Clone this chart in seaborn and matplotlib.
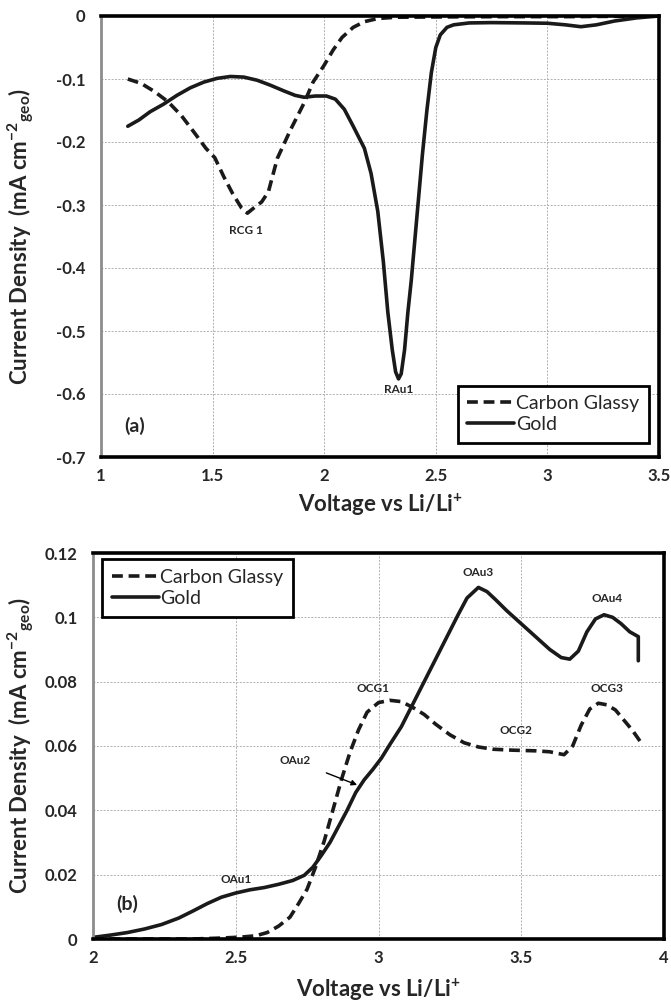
import numpy as np
import pandas as pd
import matplotlib
matplotlib.use("Agg")
import matplotlib.pyplot as plt
import seaborn as sns

# panel (a): cathodic sweep
a_gold_v = [1.12, 1.17, 1.22, 1.28, 1.34, 1.40, 1.46, 1.52, 1.58, 1.64, 1.70, 1.76, 1.82, 1.87,
            1.91, 1.96, 2.01, 2.05, 2.09, 2.13, 2.18, 2.21, 2.24, 2.265, 2.285, 2.305, 2.32, 2.333,
            2.345, 2.36, 2.375, 2.39, 2.40, 2.42, 2.44, 2.46, 2.48, 2.50, 2.52, 2.55, 2.58, 2.65,
            2.75, 2.9, 3.0, 3.08, 3.15, 3.22, 3.30, 3.40, 3.5]
a_gold_i = [-0.175, -0.165, -0.152, -0.14, -0.126, -0.114, -0.105, -0.099, -0.096, -0.097, -0.102,
            -0.110, -0.119, -0.126, -0.129, -0.127, -0.127, -0.132, -0.148, -0.175, -0.21, -0.25,
            -0.31, -0.39, -0.47, -0.53, -0.565, -0.576, -0.568, -0.53, -0.47, -0.42, -0.38, -0.30,
            -0.22, -0.15, -0.09, -0.05, -0.03, -0.018, -0.014, -0.011, -0.0105, -0.011, -0.0115,
            -0.014, -0.017, -0.014, -0.008, -0.003, 0.0]
a_cg_v = [1.12, 1.18, 1.24, 1.30, 1.36, 1.42, 1.47, 1.51, 1.55, 1.59, 1.63, 1.656, 1.68, 1.72,
          1.75, 1.79, 1.85, 1.91, 1.95, 2.00, 2.04, 2.08, 2.13, 2.18, 2.24, 2.32, 2.5, 2.8, 3.1, 3.5]
a_cg_i = [-0.100, -0.107, -0.120, -0.136, -0.158, -0.186, -0.210, -0.225, -0.255, -0.282, -0.305,
          -0.313, -0.306, -0.295, -0.279, -0.226, -0.18, -0.138, -0.105, -0.078, -0.054, -0.034,
          -0.018, -0.009, -0.004, -0.002, -0.0015, -0.001, -0.001, 0.0]

# panel (b): anodic sweep
b_gold_v = [2.00, 2.06, 2.12, 2.18, 2.24, 2.30, 2.35, 2.40, 2.45, 2.50, 2.55, 2.60, 2.65, 2.70,
            2.74, 2.77, 2.80, 2.83, 2.86, 2.89, 2.92, 2.95, 2.98, 3.01, 3.04, 3.08, 3.12, 3.16,
            3.20, 3.24, 3.28, 3.31, 3.35, 3.38, 3.41, 3.45, 3.50, 3.55, 3.60, 3.64, 3.67, 3.70,
            3.73, 3.76, 3.79, 3.82, 3.85, 3.88, 3.91, 3.91]
b_gold_i = [0.0005, 0.0012, 0.002, 0.0031, 0.0045, 0.0065, 0.0087, 0.011, 0.013, 0.0143, 0.0153,
            0.016, 0.017, 0.0182, 0.0198, 0.0223, 0.026, 0.030, 0.035, 0.040, 0.0455, 0.0495,
            0.0527, 0.0562, 0.0605, 0.066, 0.073, 0.080, 0.087, 0.094, 0.101, 0.106, 0.1093,
            0.108, 0.1055, 0.102, 0.098, 0.094, 0.090, 0.0875, 0.087, 0.0895, 0.0955, 0.0995,
            0.1008, 0.1, 0.098, 0.0955, 0.094, 0.0865]
b_cg_v = [2.00, 2.2, 2.35, 2.45, 2.52, 2.57, 2.61, 2.65, 2.69, 2.72, 2.75, 2.78, 2.81, 2.84, 2.87,
          2.90, 2.93, 2.96, 3.00, 3.04, 3.08, 3.12, 3.16, 3.20, 3.25, 3.30, 3.35, 3.40, 3.47, 3.55,
          3.60, 3.65, 3.68, 3.71, 3.74, 3.77, 3.80, 3.83, 3.86, 3.89, 3.92]
b_cg_i = [0.0, 0.0, 0.0, 0.0003, 0.0006, 0.001, 0.002, 0.004, 0.0068, 0.011, 0.0155, 0.0225,
          0.0305, 0.040, 0.0495, 0.058, 0.065, 0.0705, 0.0735, 0.0742, 0.0738, 0.072, 0.0698,
          0.0668, 0.0635, 0.061, 0.0597, 0.059, 0.0587, 0.0585, 0.0582, 0.0573, 0.060, 0.0665,
          0.0715, 0.0733, 0.0728, 0.0712, 0.068, 0.0648, 0.061]

a_peaks = ["RCG 1", "RAu1"]
a_peak_pos = [(1.65, -0.34), (2.333, -0.593)]
b_peaks = ["OAu1", "OCG1", "OCG2", "OCG3", "OAu3", "OAu4"]
b_peak_pos = [(2.5, 0.0185), (2.98, 0.0778), (3.48, 0.0648), (3.8, 0.078), (3.35, 0.1138), (3.8, 0.1058)]

sns.set_style("white")
plt.rcParams['font.family'] = ['Lato', 'DejaVu Sans']
plt.rcParams['mathtext.default'] = 'regular'

W, H = 671, 1001
fig = plt.figure(figsize=(W / 100, H / 100), dpi=100)
ax_a = fig.add_axes([101 / W, 1 - 457 / H, 558 / W, 441 / H])
ax_b = fig.add_axes([93 / W, 1 - 939 / H, 571 / W, 386 / H])

DASH = (0, (3.0, 1.6))


def draw_panel(ax, gold_v, gold_i, cg_v, cg_i):
    gold = pd.DataFrame({'v': gold_v, 'i': gold_i})
    cg = pd.DataFrame({'v': cg_v, 'i': cg_i})
    sns.lineplot(data=cg, x='v', y='i', ax=ax, sort=False, estimator=None, color='#1a1a1a',
                 lw=2.6, linestyle=DASH, label='Carbon Glassy')
    sns.lineplot(data=gold, x='v', y='i', ax=ax, sort=False, estimator=None, color='#1a1a1a',
                 lw=2.6, label='Gold')
    ax.grid(True, color='#b0b0b0', linestyle=(0, (2, 1.5)), linewidth=0.7)
    for side in ['top', 'right', 'bottom']:
        ax.spines[side].set_color('black')
        ax.spines[side].set_linewidth(2.6)
    ax.spines['left'].set_color('#8c8c8c')
    ax.spines['left'].set_linewidth(2)
    ax.tick_params(axis='x', length=0, labelsize=12, pad=8)
    ax.tick_params(axis='y', length=0, labelsize=12, pad=11)
    ax.set_xlabel('Voltage vs Li/Li$^{+}$', fontsize=16, fontweight='bold')
    ax.set_ylabel('Current Density  (mA cm$^{-2}$$_{geo}$)', fontsize=16, fontweight='bold')


def style_legend(ax, loc, anchor):
    leg = ax.legend(loc=loc, bbox_to_anchor=anchor, fontsize=14, handlelength=2.4,
                    handletextpad=0.1, borderaxespad=0, fancybox=False, framealpha=1,
                    labelspacing=0.2, borderpad=0.5)
    leg.get_frame().set_edgecolor('black')
    leg.get_frame().set_linewidth(2)


def bold_ticks(ax):
    for lab in ax.get_xticklabels() + ax.get_yticklabels():
        lab.set_fontweight('bold')


draw_panel(ax_a, a_gold_v, a_gold_i, a_cg_v, a_cg_i)
ax_a.set_xlim(1, 3.5)
ax_a.set_ylim(-0.7, 0)
ax_a.set_xticks([1, 1.5, 2, 2.5, 3, 3.5], ['1', '1.5', '2', '2.5', '3', '3.5'])
ax_a.set_yticks(np.arange(-0.7, 0.01, 0.1), ['-0.7', '-0.6', '-0.5', '-0.4', '-0.3', '-0.2', '-0.1', '0'])
bold_ticks(ax_a)
ax_a.xaxis.set_label_coords(0.5, -0.079)
ax_a.yaxis.set_label_coords(-0.115, 0.5)
for name, (x, y) in zip(a_peaks, a_peak_pos):
    ax_a.text(x, y, name, fontsize=8.5, fontweight='bold', ha='center', va='center')
ax_a.text(1.152, -0.651, '(a)', fontsize=14, fontweight='bold', ha='center', va='center')
style_legend(ax_a, 'lower right', (0.982, 0.032))

draw_panel(ax_b, b_gold_v, b_gold_i, b_cg_v, b_cg_i)
ax_b.set_xlim(2, 4)
ax_b.set_ylim(0, 0.12)
ax_b.set_xticks([2, 2.5, 3, 3.5, 4], ['2', '2.5', '3', '3.5', '4'])
ax_b.set_yticks(np.arange(0, 0.121, 0.02), ['0', '0.02', '0.04', '0.06', '0.08', '0.1', '0.12'])
bold_ticks(ax_b)
ax_b.xaxis.set_label_coords(0.5, -0.097)
ax_b.yaxis.set_label_coords(-0.098, 0.5)
for name, (x, y) in zip(b_peaks, b_peak_pos):
    ax_b.text(x, y, name, fontsize=8.5, fontweight='bold', ha='center', va='center')
ax_b.annotate('OAu2', xy=(2.925, 0.0479), xytext=(2.706, 0.0555), fontsize=8.5,
              fontweight='bold', ha='center', va='center',
              arrowprops=dict(arrowstyle='-|>', color='black', lw=1, shrinkA=10, shrinkB=0,
                              mutation_scale=8))
ax_b.text(2.12, 0.011, '(b)', fontsize=14, fontweight='bold', ha='center', va='center')
style_legend(ax_b, 'upper left', (0.016, 0.984))

fig.savefig('out.png', dpi=100)
